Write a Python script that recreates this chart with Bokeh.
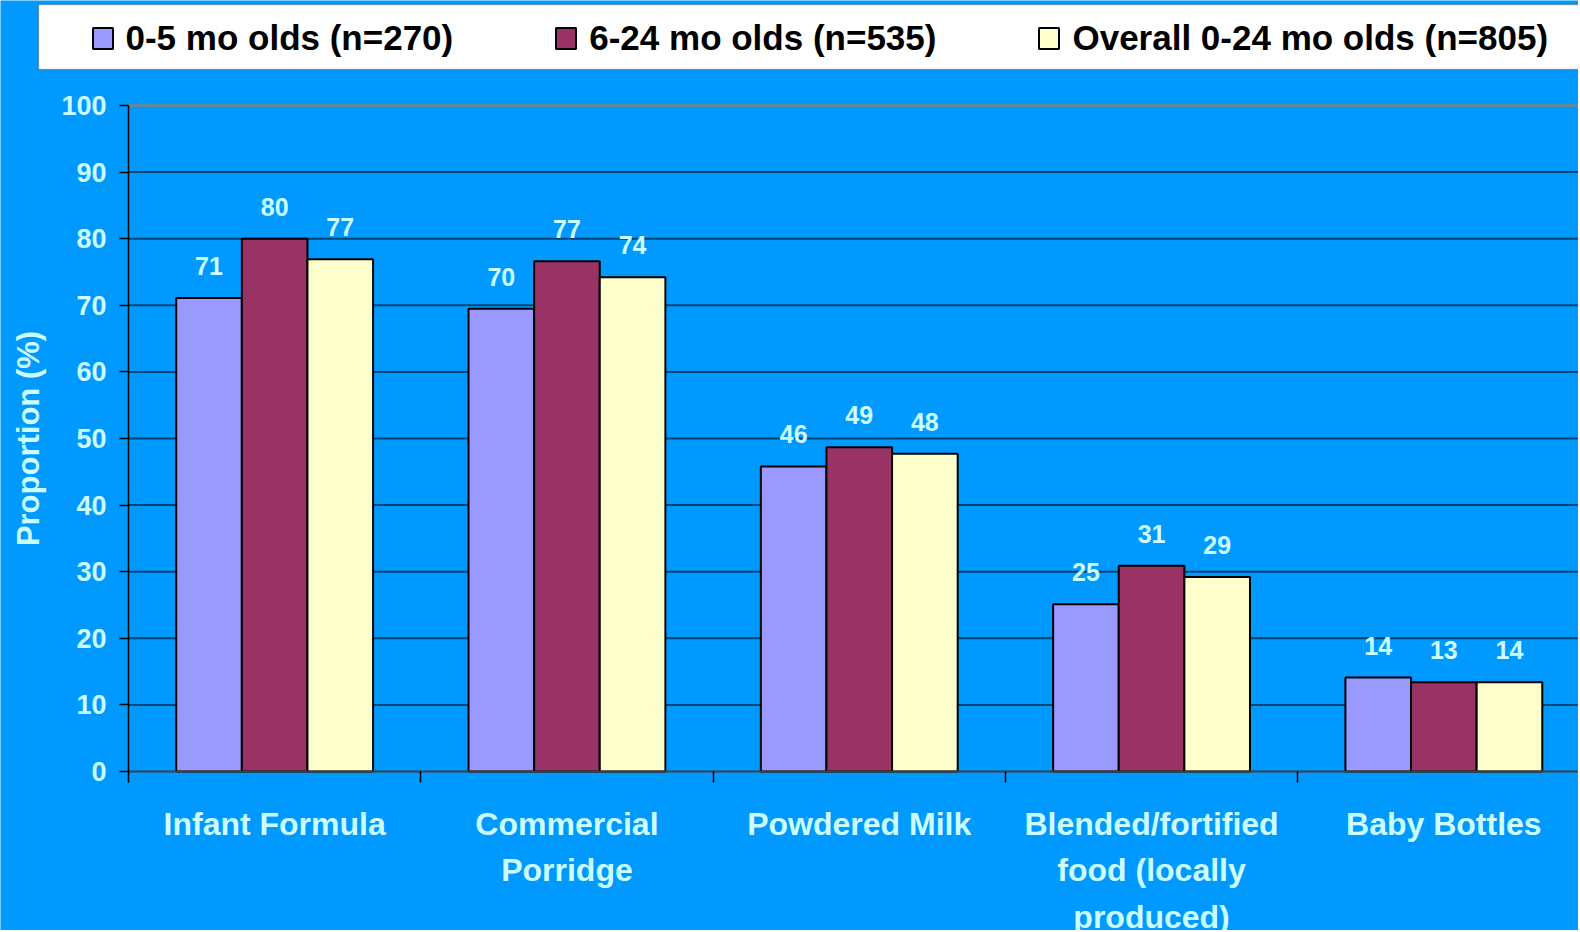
from bokeh.plotting import figure
from bokeh.models import (Range1d, FixedTicker, LinearAxis, Legend, LegendItem,
                          BoxAnnotation, ColumnDataSource, Label)
from bokeh.embed import file_html
from bokeh.resources import INLINE
from bokeh.core.properties import value

# ---------------- data ----------------
categories = ["Infant Formula", "Commercial\nPorridge", "Powdered Milk",
              "Blended/fortified\nfood (locally\nproduced)", "Baby Bottles"]
series_names = ["0-5 mo olds (n=270)", "6-24 mo olds (n=535)",
                "Overall 0-24 mo olds (n=805)"]
age_0_5 = [71.1, 69.5, 45.8, 25.1, 14.1]
age_6_24 = [80.0, 76.6, 48.7, 30.9, 13.4]
overall = [76.9, 74.2, 47.7, 29.2, 13.4]
labels_0_5 = ["71", "70", "46", "25", "14"]
labels_6_24 = ["80", "77", "49", "31", "13"]
labels_overall = ["77", "74", "48", "29", "14"]
y_ticks = [0, 10, 20, 30, 40, 50, 60, 70, 80, 90, 100]
y_title = "Proportion (%)"

# ---------------- style / layout ----------------
FONT = "Liberation Sans"
TXT = "#CCFFFF"
BG = "#0099FF"
colors = ["#9999FF", "#993366", "#FFFFCC"]

W, H = 1578, 930
AXIS_X = 128          # px from left where the value axis sits
ZERO_Y = 771          # px from top of the zero line
CAT_PX = 292.3        # px per category
UNIT_PX = 6.66        # px per percentage point
n = len(categories)

x_start = -AXIS_X / CAT_PX
x_end = (W - AXIS_X) / CAT_PX
y_start = -(H - ZERO_Y) / UNIT_PX
y_end = ZERO_Y / UNIT_PX

p = figure(width=W, height=H, output_backend="svg", toolbar_location=None,
           x_range=Range1d(x_start, x_end), y_range=Range1d(y_start, y_end),
           min_border_left=0, min_border_right=0, min_border_top=0,
           min_border_bottom=0,
           background_fill_color=BG, border_fill_color=BG,
           outline_line_color=None, x_axis_type=None, y_axis_type=None)

centers = [i + 0.5 for i in range(n)]
bounds = [i for i in range(n + 1)]

# horizontal grid lines across the plot area only
grid_y = y_ticks[1:-1]
p.segment(x0=[0] * len(grid_y), x1=[n] * len(grid_y), y0=grid_y, y1=grid_y,
          line_color="#00304f", line_alpha=0.8, line_width=2)
p.segment(x0=[0], x1=[n], y0=[y_ticks[-1]], y1=[y_ticks[-1]],
          line_color="#808080", line_width=2.5)

# value axis, drawn at category boundary 0
yaxis = LinearAxis(fixed_location=0, bounds=(0, 100),
                   ticker=FixedTicker(ticks=y_ticks, minor_ticks=[]),
                   major_label_text_font=FONT, major_label_text_font_style="bold",
                   major_label_text_font_size="27px", major_label_text_color=TXT,
                   major_label_standoff=13,
                   major_tick_out=9, major_tick_in=0, major_tick_line_color="black",
                   major_tick_line_width=1.5,
                   minor_tick_out=0, minor_tick_in=0,
                   axis_line_color="black", axis_line_width=1.5)
p.add_layout(yaxis, "left")

p.add_layout(Label(x=27.5, y=50, x_units="screen", y_units="data", text=y_title,
                   angle=90, angle_units="deg", text_align="center",
                   text_baseline="middle", text_font=FONT, text_font_style="bold",
                   text_font_size="31px", text_color=TXT))

# category axis at zero: labels at centres, ticks at boundaries
xaxis = LinearAxis(fixed_location=0, bounds=(0, n),
                   ticker=FixedTicker(ticks=centers, minor_ticks=bounds),
                   major_label_overrides={c: lab for c, lab in zip(centers, categories)},
                   major_label_text_font=FONT, major_label_text_font_style="bold",
                   major_label_text_font_size="32px", major_label_text_color=TXT,
                   major_label_text_line_height=1.3,
                   major_label_standoff=23,
                   major_tick_out=0, major_tick_in=0,
                   minor_tick_out=11, minor_tick_in=0, minor_tick_line_color="black",
                   minor_tick_line_width=1.5,
                   axis_line_color="#404040", axis_line_width=2)
p.add_layout(xaxis, "below")

# bars + value labels
bar_w = 0.2245
offsets = [-bar_w, 0.0, bar_w]
series_vals = [age_0_5, age_6_24, overall]
series_labels = [labels_0_5, labels_6_24, labels_overall]
renderers = []
for vals, labs, col, off in zip(series_vals, series_labels, colors, offsets):
    src = ColumnDataSource(dict(x=[c + off for c in centers], top=vals, lab=labs))
    r = p.vbar(x="x", top="top", bottom=0, width=bar_w, source=src,
               fill_color=col, line_color="black", line_width=2)
    renderers.append(r)
    p.text(x="x", y="top", text="lab", source=src, text_align="center",
           text_baseline="alphabetic", y_offset=-32, text_color=TXT,
           text_font=value(FONT), text_font_style="bold", text_font_size="25px")

# legend box + legend (screen units measured from the bottom of the canvas)
box = BoxAnnotation(left=38, right=W + 20, top=H - 4, bottom=H - 69,
                    left_units="screen", right_units="screen",
                    top_units="screen", bottom_units="screen",
                    fill_color="white", fill_alpha=1.0,
                    line_color="#1a1a1a", line_width=1.5)
p.add_layout(box)

legend = Legend(items=[LegendItem(label=nm, renderers=[r]) for nm, r in zip(series_names, renderers)],
                orientation="horizontal", location=(89.5, H - 58),
                padding=0, margin=0, spacing=100,
                glyph_width=25, glyph_height=26, label_standoff=11,
                label_text_font=FONT, label_text_font_style="bold",
                label_text_font_size="35px", label_text_color="black",
                background_fill_alpha=0, border_line_alpha=0)
p.add_layout(legend)

open("out.html", "w").write(file_html(p, INLINE))
